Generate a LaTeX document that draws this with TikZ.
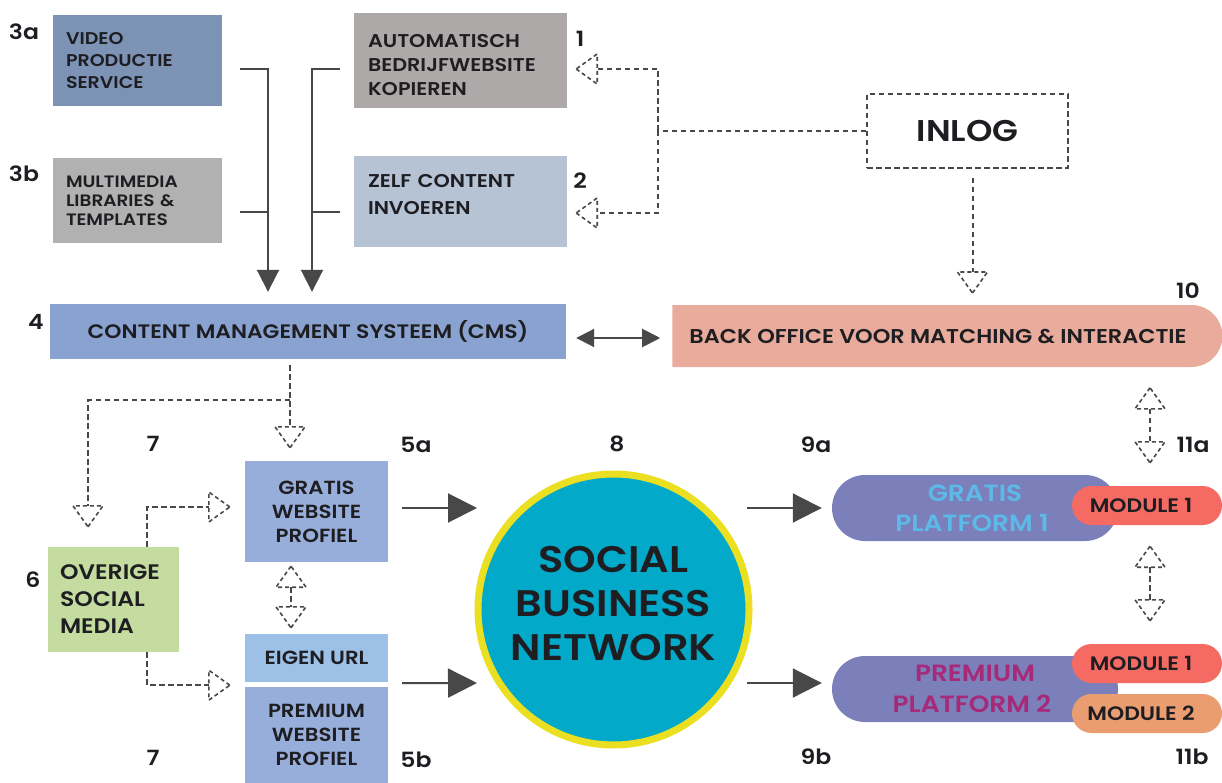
\documentclass[tikz,border=0pt]{standalone}
\usepackage{fontspec}
\setmainfont{Poppins}[UprightFont={* SemiBold},BoldFont={* SemiBold},FakeStretch=1.12]
\usetikzlibrary{arrows.meta}
\usetikzlibrary{shapes.misc}

\definecolor{tekst}{HTML}{1E1E22}
\definecolor{donker}{HTML}{484848}
\definecolor{videoblauw}{HTML}{7C93B6}
\definecolor{mmgrijs}{HTML}{B1B1B1}
\definecolor{autogrijs}{HTML}{ADA9A9}
\definecolor{zelfblauw}{HTML}{B5C3D5}
\definecolor{cmsblauw}{HTML}{89A2CF}
\definecolor{bozalm}{HTML}{E9AB9B}
\definecolor{webblauw}{HTML}{97AEDA}
\definecolor{urlblauw}{HTML}{9DC0E6}
\definecolor{mediagroen}{HTML}{C5DCA0}
\definecolor{netwerk}{HTML}{03A9C9}
\definecolor{ring}{HTML}{EAE021}
\definecolor{platpaars}{HTML}{7B7FBA}
\definecolor{gratistekst}{HTML}{5DB9E8}
\definecolor{premiumtekst}{HTML}{A62A78}
\definecolor{modrood}{HTML}{F56B63}
\definecolor{modoranje}{HTML}{EA9D70}

\begin{document}
\begin{tikzpicture}[x=1pt,y=-1pt,
  blok/.style={inner xsep=13pt, inner ysep=0pt, align=left, text=tekst},
  cblok/.style={inner sep=0pt, align=center, text=tekst},
  pil/.style={rounded rectangle, inner sep=0pt, align=center},
  nr/.style={inner sep=0pt, text=tekst, font=\fontsize{21}{21}\selectfont},
  sline/.style={draw=donker, line width=2pt},
  spijl/.style={sline, -{Triangle[length=#1pt, width=#1pt, color=donker]}},
  dline/.style={draw=donker, line width=2pt, dash pattern=on 5.5pt off 3.5pt},
  tipline/.style={draw=donker, line width=1.6pt, dash pattern=on 4pt off 3pt, line join=miter},
  dtip/.pic={\draw[tipline] (0,0) -- (-21,-15) -- (-21,15) -- cycle;}]

  \useasboundingbox (0,0) rectangle (1222,783);

  % bovenste rij: invoer van content
  \node[blok, fill=videoblauw, minimum width=169pt, minimum height=91pt, text width=143pt,
        font=\fontsize{17}{22}\selectfont] (video) at (137.5,60.5) {VIDEO\\PRODUCTIE\\SERVICE};
  \node[blok, fill=mmgrijs, minimum width=169pt, minimum height=85pt, text width=143pt,
        font=\fontsize{16.5}{19}\selectfont] (mmedia) at (137.5,201) {MULTIMEDIA\\LIBRARIES \&\\TEMPLATES};
  \node[blok, inner xsep=14pt, fill=autogrijs, minimum width=213pt, minimum height=95pt, text width=185pt,
        font=\fontsize{18.5}{24}\selectfont] (auto) at (460.5,60.5) {\rule{0pt}{22pt}AUTOMATISCH\\BEDRIJFWEBSITE\\KOPIEREN};
  \node[blok, inner xsep=14pt, fill=zelfblauw, minimum width=213pt, minimum height=91pt, text width=185pt,
        text depth=41pt, font=\fontsize{18.5}{27}\selectfont] (zelf) at (460.5,201.5) {ZELF CONTENT\\INVOEREN};
  \node[cblok, draw=donker, line width=2pt, dash pattern=on 5.5pt off 3.5pt,
        minimum width=201pt, minimum height=74pt, font=\fontsize{30}{30}\selectfont] (inlog) at (967.5,131) {INLOG};

  % CMS en back office
  \node[cblok, fill=cmsblauw, minimum width=516pt, minimum height=55pt,
        font=\fontsize{19.5}{19.5}\selectfont] (cms) at (308,331.5) {CONTENT MANAGEMENT SYSTEEM (CMS)};
  \node[pil, rounded rectangle west arc=none, fill=bozalm, text=tekst, minimum width=550pt, minimum height=62pt,
        font=\fontsize{20}{20}\selectfont] (bo) at (947,336) {BACK OFFICE VOOR MATCHING \& INTERACTIE\hspace*{18pt}};

  % websiteprofielen en social media
  \node[cblok, fill=webblauw, minimum width=143pt, minimum height=101pt,
        font=\fontsize{19}{24}\selectfont] (gratisw) at (316.5,511.5) {GRATIS\\WEBSITE\\PROFIEL};
  \node[cblok, fill=urlblauw, minimum width=143pt, minimum height=48pt,
        font=\fontsize{19}{24}\selectfont] (url) at (316.5,658) {EIGEN URL};
  \node[cblok, fill=webblauw, minimum width=143pt, minimum height=96pt,
        font=\fontsize{19}{24}\selectfont] (premiumw) at (316.5,735) {PREMIUM\\WEBSITE\\PROFIEL};
  \node[blok, inner xsep=12pt, fill=mediagroen, minimum width=131pt, minimum height=105pt, text width=107pt,
        font=\fontsize{21}{27}\selectfont] (overige) at (113.5,599.5) {OVERIGE\\SOCIAL\\MEDIA};

  % het netwerk
  \node[circle, draw=ring, line width=7pt, fill=netwerk, minimum size=271pt, inner sep=0pt,
        align=center, text=tekst, text depth=12pt, font=\fontsize{37}{44}\selectfont] (sbn) at (613.5,609.5)
        {SOCIAL\\BUSINESS\\NETWORK};

  % platforms met modules
  \node[pil, fill=platpaars, text=gratistekst, minimum width=286pt, minimum height=66pt,
        font=\fontsize{23.5}{30}\selectfont] (gplat) at (975,508) {GRATIS\\PLATFORM 1\hspace*{6pt}};
  \node[pil, fill=modrood, text=tekst, minimum width=150pt, minimum height=39pt,
        font=\fontsize{19.5}{19.5}\selectfont] (gmod) at (1147,505.5) {MODULE 1\hspace*{12pt}};
  \node[pil, fill=platpaars, text=premiumtekst, minimum width=286pt, minimum height=66pt,
        font=\fontsize{23.5}{31}\selectfont] (pplat) at (975,689) {PREMIUM\\PLATFORM 2\hspace*{6pt}};
  \node[pil, fill=modrood, text=tekst, minimum width=150pt, minimum height=39pt,
        font=\fontsize{19.5}{19.5}\selectfont] (pmod1) at (1147,663.5) {MODULE 1\hspace*{12pt}};
  \node[pil, fill=modoranje, text=tekst, minimum width=150pt, minimum height=39pt,
        font=\fontsize{19.5}{19.5}\selectfont] (pmod2) at (1147,713.5) {MODULE 2\hspace*{12pt}};

  % nummers
  \node[nr] (n3a) at (24,32) {3a};
  \node[nr] (n3b) at (24,174) {3b};
  \node[nr] (n1) at (580,39) {1};
  \node[nr] (n2) at (580,181) {2};
  \node[nr] (n4) at (36,322) {4};
  \node[nr] (n10) at (1188,291) {10};
  \node[nr] (n7a) at (153,444) {7};
  \node[nr] (n5a) at (416,445) {5a};
  \node[nr] (n8) at (617,444) {8};
  \node[nr] (n9a) at (816,445) {9a};
  \node[nr] (n11a) at (1193,445) {11a};
  \node[nr] (n6) at (33,580) {6};
  \node[nr] (n7b) at (153,758) {7};
  \node[nr] (n5b) at (416,760) {5b};
  \node[nr] (n9b) at (816,757) {9b};
  \node[nr] (n11b) at (1192,757) {11b};

  % content naar het CMS
  \draw[spijl=22] ([shift={(18,8.5)}]video.east) -| ([shift={(-40,-12)}]cms.north);
  \draw[sline] ([shift={(18,11)}]mmedia.east) -- ++(28,0);
  \draw[spijl=22] ([shift={(-14,8.5)}]auto.west) -| ([shift={(4,-12)}]cms.north);
  \draw[sline] ([shift={(-14,10.5)}]zelf.west) -- ++(-28,0);

  % CMS <-> back office
  \draw[sline, {Triangle[length=18pt, width=18pt, color=donker]}-{Triangle[length=18pt, width=18pt, color=donker]}]
    ([shift={(10,6.5)}]cms.east) -- ([shift={(-12,2)}]bo.west);

  % inlog
  \draw[dline] (inlog.west) -- ++(-208,0) coordinate (splits);
  \draw[dline] (splits) |- ([shift={(30,8.5)}]auto.east);
  \pic[rotate=180] at ([shift={(9,8.5)}]auto.east) {dtip};
  \draw[dline] (splits) |- ([shift={(30,11.5)}]zelf.east);
  \pic[rotate=180] at ([shift={(9,11.5)}]zelf.east) {dtip};
  \draw[dline] ([shift={(5,9)}]inlog.south) -- ([shift={(5,103)}]inlog.south);
  \pic[rotate=-90] at ([shift={(5,124)}]inlog.south) {dtip};

  % CMS naar profielen en social media
  \draw[dline] ([shift={(-18,6)}]cms.south) -- ([shift={(-26.5,-34)}]gratisw.north);
  \pic[rotate=-90] at ([shift={(-26.5,-13)}]gratisw.north) {dtip};
  \draw[dline] ([shift={(-18,41)}]cms.south) -| ([shift={(-25.5,-41)}]overige.north);
  \pic[rotate=-90] at ([shift={(-25.5,-20)}]overige.north) {dtip};
  \draw[dline] ([shift={(33.5,0)}]overige.north) |- ([shift={(-36,-4.5)}]gratisw.west);
  \pic at ([shift={(-15,-4.5)}]gratisw.west) {dtip};
  \draw[dline] ([shift={(33.5,0)}]overige.south) |- ([shift={(-36,3)}]url.south west);
  \pic at ([shift={(-15,3)}]url.south west) {dtip};
  \draw[dline] ([shift={(-25.5,25)}]gratisw.south) -- ([shift={(-25.5,-27)}]url.north);
  \pic[rotate=90] at ([shift={(-25.5,4)}]gratisw.south) {dtip};
  \pic[rotate=-90] at ([shift={(-25.5,-6)}]url.north) {dtip};

  % profielen -> netwerk -> platforms
  \draw[spijl=29] ([shift={(14,-3.5)}]gratisw.east) -- ([shift={(-136.5,-101.5)}]sbn.center);
  \draw[spijl=29] ([shift={(14,1)}]url.south east) -- ([shift={(-136.5,73.5)}]sbn.center);
  \draw[spijl=29] ([shift={(133.5,-101.5)}]sbn.center) -- ([shift={(-10,0)}]gplat.west);
  \draw[spijl=29] ([shift={(133.5,73.5)}]sbn.center) -- ([shift={(-10,-6)}]pplat.west);

  % back office <-> modules
  \draw[dline] ([shift={(3,-77)}]gmod.north) -- ([shift={(3,-44)}]gmod.north);
  \pic[rotate=90] at ([shift={(3,-98)}]gmod.north) {dtip};
  \pic[rotate=-90] at ([shift={(3,-23)}]gmod.north) {dtip};
  \draw[dline] ([shift={(3,42)}]gmod.south) -- ([shift={(3,-44)}]pmod1.north);
  \pic[rotate=90] at ([shift={(3,21)}]gmod.south) {dtip};
  \pic[rotate=-90] at ([shift={(3,-23)}]pmod1.north) {dtip};
\end{tikzpicture}
\end{document}
